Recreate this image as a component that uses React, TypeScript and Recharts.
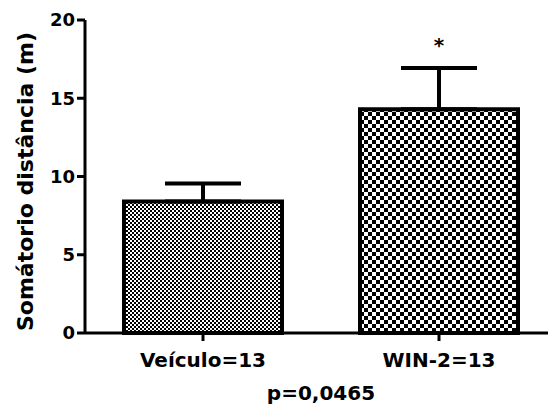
import { Bar, BarChart, Cell, ErrorBar, ReferenceDot, XAxis, YAxis } from "recharts";

const GROUPS = ["Veículo=13", "WIN-2=13"];
const MEANS = [8.4, 14.3];
const SEM = [1.15, 2.64];
const Y_TICKS = [0, 5, 10, 15, 20];
const STARS = ["", "*"];

const FILLS = ["url(#checkFine)", "url(#checkCoarse)"];
const FONT = "'DejaVu Sans', sans-serif";

const data = GROUPS.map((g, i) => ({
  group: g,
  mean: MEANS[i],
  err: [0, SEM[i]],
  top: MEANS[i] + SEM[i],
  star: STARS[i],
}));

function YLabel(props: any) {
  const vb = props.viewBox;
  const x = vb.x + 33;
  const y = vb.y + vb.height / 2 + 5;
  return (
    <text
      x={x}
      y={y}
      transform={`rotate(-90, ${x}, ${y})`}
      textAnchor="middle"
      fontFamily={FONT}
      fontWeight="bold"
      fontSize={22}
      fill="#000"
    >
      Somátorio distância (m)
    </text>
  );
}

export default function App() {
  return (
    <div style={{ position: "absolute", left: 0, top: 0, width: 548, height: 410, overflow: "hidden", background: "#fff" }}>
      <BarChart width={560} height={410} data={data} margin={{ top: 20, right: 3, left: 0, bottom: 0 }}>
        <defs>
          <pattern id="checkFine" width={4} height={4} patternUnits="userSpaceOnUse">
            <rect width={4} height={4} fill="#fff" />
            <rect x={0} y={0} width={2} height={2} fill="#000" />
            <rect x={2} y={2} width={2} height={2} fill="#000" />
          </pattern>
          <pattern id="checkCoarse" width={8} height={8} patternUnits="userSpaceOnUse">
            <rect width={8} height={8} fill="#fff" />
            <rect x={0} y={0} width={4} height={4} fill="#000" />
            <rect x={4} y={4} width={4} height={4} fill="#000" />
          </pattern>
        </defs>
        <XAxis
          dataKey="group"
          height={77}
          tickSize={8}
          tickMargin={12}
          axisLine={{ stroke: "#000", strokeWidth: 3 }}
          tickLine={{ stroke: "#000", strokeWidth: 3 }}
          tick={{ fill: "#000", fontFamily: FONT, fontWeight: "bold", fontSize: 20 }}
          label={{
            value: "p=0,0465",
            position: "insideBottom",
            offset: 10,
            fill: "#000",
            fontFamily: FONT,
            fontWeight: "bold",
            fontSize: 20,
          }}
        />
        <YAxis
          width={85}
          domain={[0, 20]}
          ticks={Y_TICKS}
          tickSize={8}
          tickMargin={2}
          axisLine={{ stroke: "#000", strokeWidth: 3 }}
          tickLine={{ stroke: "#000", strokeWidth: 3 }}
          tick={{ fill: "#000", fontFamily: FONT, fontWeight: "bold", fontSize: 18 }}
          label={{ content: YLabel }}
        />
        <Bar dataKey="mean" barSize={158} stroke="#000" strokeWidth={4} isAnimationActive={false}>
          {data.map((d, i) => (
            <Cell key={d.group} fill={FILLS[i]} />
          ))}
          <ErrorBar dataKey="err" width={38} stroke="#000" strokeWidth={4} direction="y" />
        </Bar>
        {data
          .filter((d) => d.star)
          .map((d) => (
            <ReferenceDot
              key={d.group}
              x={d.group}
              y={d.top}
              r={0}
              stroke="none"
              label={{
                value: d.star,
                position: "top",
                offset: 16,
                fill: "#000",
                fontFamily: FONT,
                fontWeight: "bold",
                fontSize: 20,
              }}
            />
          ))}
      </BarChart>
    </div>
  );
}
